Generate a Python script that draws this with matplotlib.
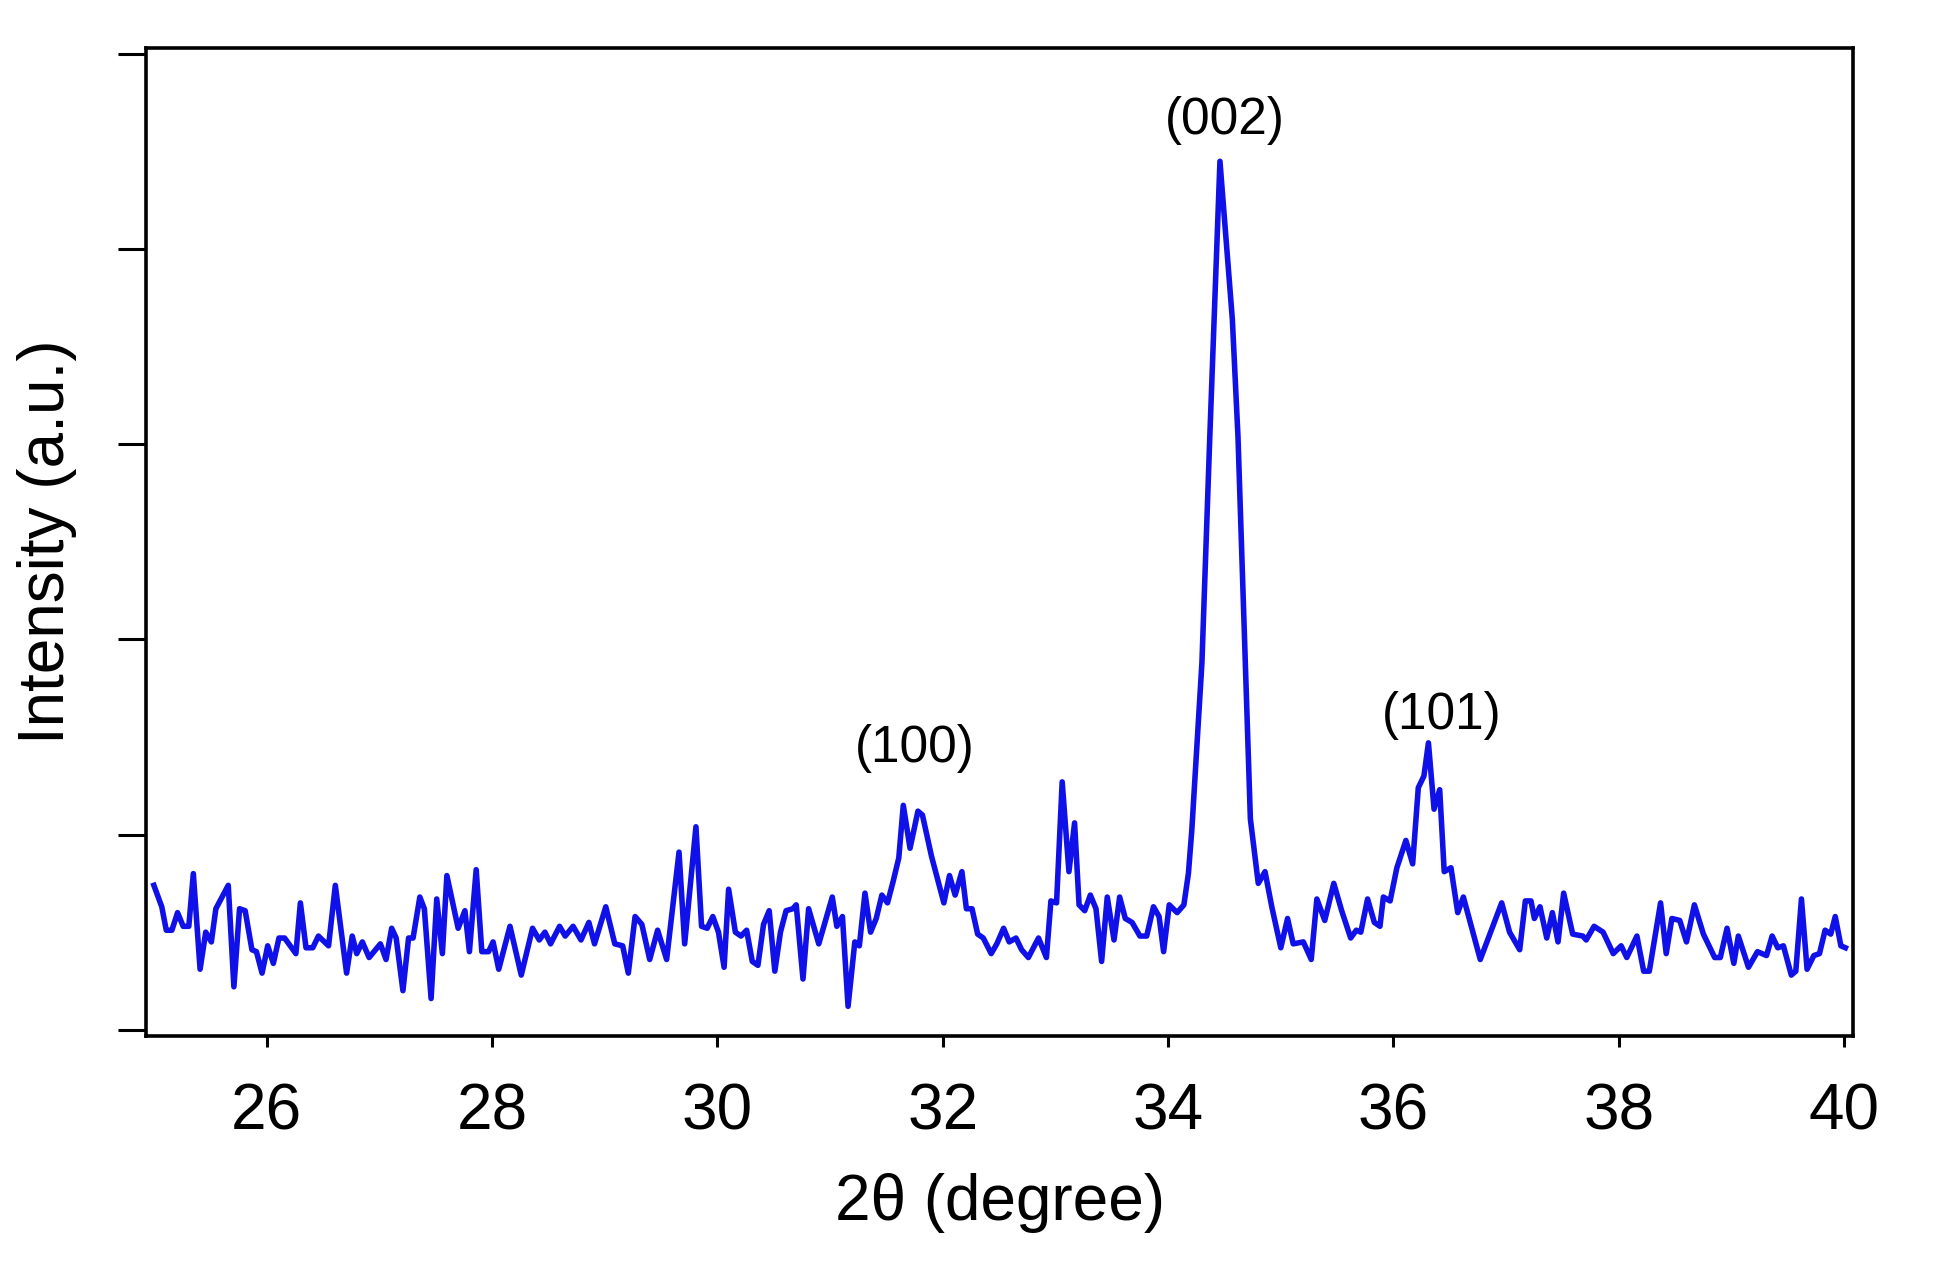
import matplotlib.pyplot as plt

# digitised XRD pattern (2theta, intensity in a.u.)
two_theta = [
    25.00, 25.07, 25.11, 25.16, 25.21, 25.26, 25.31, 25.35, 25.41, 25.46, 25.51, 25.55,
    25.66, 25.71, 25.76, 25.81, 25.87, 25.91, 25.96, 26.01, 26.06, 26.11, 26.16, 26.26,
    26.30, 26.35, 26.41, 26.46, 26.55, 26.61, 26.71, 26.76, 26.80, 26.85, 26.91, 27.01,
    27.06, 27.11, 27.15, 27.21, 27.26, 27.30, 27.36, 27.40, 27.46, 27.51, 27.56, 27.60,
    27.70, 27.76, 27.80, 27.86, 27.91, 27.97, 28.01, 28.06, 28.16, 28.26, 28.36, 28.42,
    28.47, 28.52, 28.60, 28.65, 28.72, 28.79, 28.86, 28.91, 29.01, 29.09, 29.16, 29.21,
    29.27, 29.33, 29.40, 29.47, 29.55, 29.66, 29.71, 29.81, 29.86, 29.91, 29.96, 30.01,
    30.06, 30.10, 30.16,
    30.21, 30.26, 30.31, 30.36, 30.41, 30.46, 30.51, 30.56, 30.61, 30.67, 30.70, 30.76,
    30.81, 30.90, 31.02, 31.06, 31.11, 31.16, 31.22, 31.26, 31.31, 31.36, 31.41, 31.46,
    31.51, 31.56, 31.61, 31.65, 31.71, 31.78, 31.82, 31.90, 32.01, 32.06, 32.11, 32.17,
    32.21, 32.26, 32.31, 32.36, 32.43, 32.48, 32.54, 32.59, 32.65, 32.70, 32.76, 32.85,
    32.92, 32.96, 33.01, 33.06, 33.12, 33.17, 33.21, 33.26, 33.31, 33.36, 33.41, 33.46,
    33.52, 33.57, 33.62, 33.68, 33.75, 33.81, 33.87, 33.92, 33.96, 34.01, 34.08, 34.14,
    34.18,
    34.21, 34.30, 34.33, 34.37, 34.41, 34.46, 34.57, 34.62, 34.73, 34.80, 34.86, 34.92,
    35.00, 35.06, 35.11, 35.20, 35.27, 35.32, 35.39, 35.47, 35.54, 35.62, 35.67, 35.71,
    35.77, 35.83, 35.88, 35.91, 35.97, 36.03, 36.11, 36.17, 36.22, 36.27, 36.31, 36.36,
    36.41, 36.45, 36.51, 36.57, 36.62, 36.77, 36.96, 37.03, 37.12, 37.17, 37.22, 37.25,
    37.30, 37.36, 37.41, 37.46, 37.51, 37.59, 37.68, 37.71, 37.78, 37.86, 37.95, 38.02,
    38.07, 38.16, 38.22, 38.27, 38.37, 38.42, 38.47, 38.54, 38.60, 38.67, 38.75, 38.85,
    38.90, 38.96, 39.02, 39.06, 39.15, 39.23, 39.31, 39.36, 39.41, 39.46, 39.53, 39.57,
    39.62, 39.67, 39.73, 39.78, 39.83, 39.88, 39.92, 39.97, 40.01,
]
intensity = [
    0.74, 0.63, 0.51, 0.51, 0.60, 0.53, 0.53, 0.80, 0.31, 0.50, 0.45, 0.62,
    0.74, 0.22, 0.62, 0.61, 0.41, 0.40, 0.29, 0.43, 0.34, 0.47, 0.47, 0.39,
    0.65, 0.42, 0.42, 0.48, 0.43, 0.74, 0.29, 0.48, 0.39, 0.45, 0.37, 0.44,
    0.36, 0.52, 0.47, 0.20, 0.47, 0.47, 0.68, 0.62, 0.16, 0.67, 0.39, 0.79,
    0.52, 0.61, 0.40, 0.82, 0.40, 0.40, 0.45, 0.31, 0.53, 0.28, 0.52, 0.46,
    0.50, 0.44, 0.53, 0.48, 0.53, 0.46, 0.55, 0.44, 0.63, 0.44, 0.43, 0.29,
    0.58, 0.54, 0.36, 0.51, 0.36, 0.91, 0.44, 1.04, 0.53, 0.52, 0.58, 0.50,
    0.32, 0.72, 0.50,
    0.48, 0.51, 0.35, 0.33, 0.54, 0.61, 0.30, 0.50, 0.61, 0.62, 0.64, 0.26,
    0.62, 0.44, 0.68, 0.53, 0.58, 0.12, 0.45, 0.43, 0.70, 0.50, 0.57, 0.69,
    0.65, 0.76, 0.88, 1.15, 0.93, 1.12, 1.10, 0.89, 0.65, 0.79, 0.69, 0.81,
    0.62, 0.62, 0.49, 0.47, 0.39, 0.44, 0.52, 0.45, 0.47, 0.41, 0.37, 0.47,
    0.37, 0.66, 0.65, 1.27, 0.81, 1.06, 0.64, 0.61, 0.69, 0.62, 0.35, 0.68,
    0.46, 0.68, 0.57, 0.55, 0.48, 0.48, 0.63, 0.58, 0.40, 0.64, 0.60, 0.64,
    0.80,
    1.02, 1.88, 2.38, 3.04, 3.67, 4.45, 3.64, 3.04, 1.08, 0.75, 0.81, 0.63,
    0.42, 0.57, 0.44, 0.45, 0.36, 0.67, 0.56, 0.75, 0.61, 0.47, 0.51, 0.50,
    0.67, 0.55, 0.53, 0.68, 0.66, 0.83, 0.97, 0.85, 1.24, 1.30, 1.47, 1.13,
    1.23, 0.81, 0.83, 0.60, 0.68, 0.36, 0.65, 0.50, 0.41, 0.66, 0.66, 0.57,
    0.63, 0.47, 0.60, 0.45, 0.70, 0.49, 0.48, 0.46, 0.53, 0.50, 0.39, 0.43,
    0.37, 0.48, 0.30, 0.30, 0.65, 0.39, 0.57, 0.56, 0.45, 0.64, 0.49, 0.37,
    0.37, 0.52, 0.34, 0.48, 0.32, 0.40, 0.38, 0.48, 0.42, 0.43, 0.28, 0.30,
    0.67, 0.31, 0.38, 0.39, 0.51, 0.49, 0.58, 0.43, 0.42,
]

peak_labels = ["(100)", "(002)", "(101)"]
peak_x = [31.75, 34.50, 36.43]
peak_y = [1.44, 4.66, 1.61]

plt.rcParams['font.family'] = ['Liberation Sans', 'DejaVu Sans']

fig = plt.figure(figsize=(19.57, 12.66), dpi=100)
ax = fig.add_axes([0.0746, 0.182, 0.8724, 0.78])

ax.plot(two_theta, intensity, color="#1010e8", lw=4.0)

for lab, x, y in zip(peak_labels, peak_x, peak_y):
    ax.text(x, y, lab, ha="center", va="center", fontsize=37)

ax.set_xlim(24.93, 40.08)
ax.set_ylim(-0.03, 5.03)
ax.set_xticks(range(26, 41, 2))
ax.set_yticks(range(0, 6))
ax.set_yticklabels([])
ax.tick_params(axis="x", labelsize=46, length=8, width=2.2, pad=26)
ax.tick_params(axis="y", length=20, width=2.2)
for s in ax.spines.values():
    s.set_linewidth(2.6)

ax.set_xlabel("2θ (degree)", fontsize=46, labelpad=22)
ax.set_ylabel("Intensity (a.u.)", fontsize=46, labelpad=26,
              family=['Liberation Sans Narrow', 'Liberation Sans', 'DejaVu Sans'])

fig.savefig("out.png", dpi=100)
